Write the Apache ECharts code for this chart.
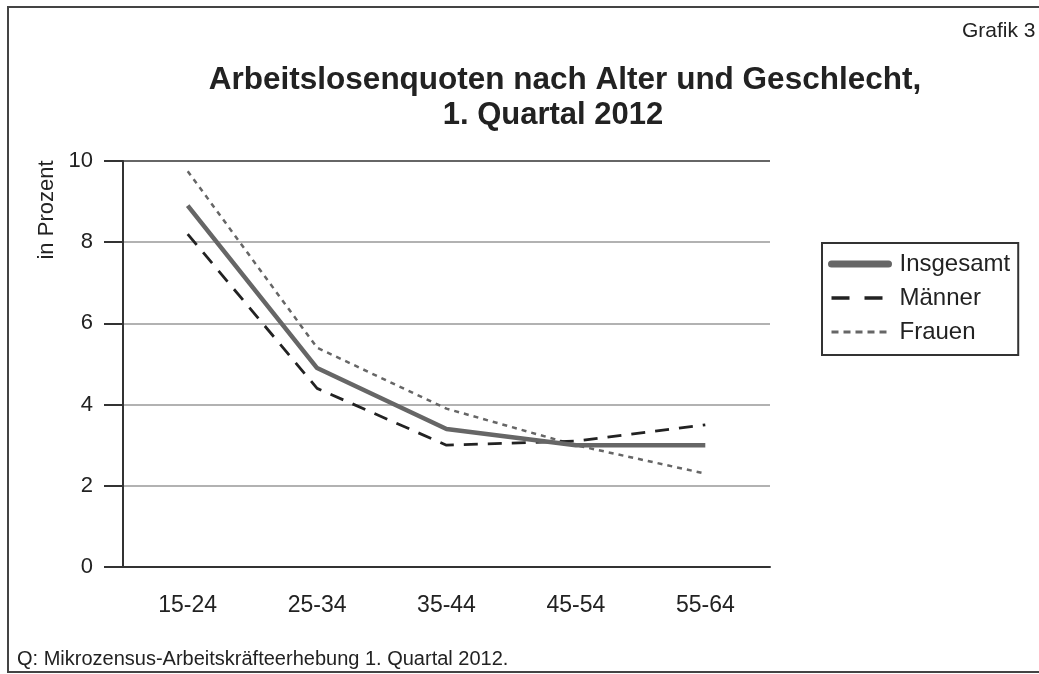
<!DOCTYPE html>
<html>
<head>
<meta charset="utf-8">
<script src="https://cdn.jsdelivr.net/npm/echarts@6/dist/echarts.min.js"></script>
<style>
  html, body { margin: 0; padding: 0; background: #fff; }
  #chart { width: 1039px; height: 674px; }
</style>
</head>
<body>
<div id="chart"></div>
<script>
// Altersgruppen und Quoten (in Prozent)
var ageGroups = ['15-24', '25-34', '35-44', '45-54', '55-64'];
var insgesamt = [8.9, 4.9, 3.4, 3.0, 3.0];
var maenner   = [8.2, 4.4, 3.0, 3.1, 3.5];
var frauen    = [9.75, 5.4, 3.9, 3.0, 2.3];
var yTicks    = [0, 2, 4, 6, 8, 10];

var font = 'Liberation Sans, Arial, sans-serif';
var myChart = echarts.init(document.getElementById('chart'));

myChart.setOption({
    backgroundColor: '#fff',
    textStyle: { fontFamily: font, color: '#222' },
    title: [
        {
            text: 'Arbeitslosenquoten nach Alter und Geschlecht,',
            left: 560, top: 59, textAlign: 'center',
            textStyle: { fontFamily: font, fontSize: 31.5, fontWeight: 'bold', color: '#222' }
        },
        {
            text: '1. Quartal 2012',
            left: 548, top: 95, textAlign: 'center',
            textStyle: { fontFamily: font, fontSize: 31, fontWeight: 'bold', color: '#222' }
        },
        {
            text: 'Grafik 3',
            left: 957, top: 16,
            textStyle: { fontFamily: font, fontSize: 21, fontWeight: 'normal', color: '#222' }
        },
        {
            text: 'Q: Mikrozensus-Arbeitskräfteerhebung 1. Quartal 2012.',
            left: 12, top: 644,
            textStyle: { fontFamily: font, fontSize: 20, fontWeight: 'normal', color: '#222' }
        }
    ],
    legend: {
        orient: 'vertical',
        left: 822, top: 243,
        padding: [9, 8, 11, 6],
        borderColor: '#333',
        borderWidth: 2,
        itemWidth: 57,
        itemHeight: 24,
        itemGap: 10,
        itemStyle: { color: 'rgba(0,0,0,0)', borderWidth: 0 },
        textStyle: { fontFamily: font, fontSize: 24, color: '#222', padding: [0, 0, 0, 6] },
        data: [
            { name: 'Insgesamt', lineStyle: { width: 7, color: '#666', cap: 'round' } },
            { name: 'Männer', lineStyle: { width: 3.5, color: '#222', type: [18, 15] } },
            { name: 'Frauen', lineStyle: { width: 3, color: '#666', type: [7, 5] } }
        ]
    },
    grid: { left: 123, right: 269, top: 161, bottom: 107 },
    xAxis: {
        type: 'category',
        data: ageGroups,
        boundaryGap: true,
        axisLine: { lineStyle: { color: '#333', width: 2 } },
        axisTick: { alignWithLabel: true, length: 18, lineStyle: { color: '#333', width: 2 } },
        axisLabel: { margin: 27, fontSize: 23, color: '#222', fontFamily: font }
    },
    yAxis: {
        type: 'value',
        min: yTicks[0], max: yTicks[yTicks.length - 1], interval: 2,
        axisLine: { show: true, lineStyle: { color: '#333', width: 2 } },
        axisTick: { show: true, length: 19, lineStyle: { color: '#333', width: 2 } },
        axisLabel: { margin: 30, fontSize: 22, color: '#222', fontFamily: font },
        splitLine: { lineStyle: { color: ['#999', '#999', '#999', '#999', '#999', '#333'], width: 1.5 } }
    },
    graphic: [
        {
            type: 'rect',
            shape: { x: 8, y: 7, width: 1100, height: 665 },
            style: { fill: 'none', stroke: '#444', lineWidth: 2 },
            silent: true
        },
        {
            type: 'text',
            x: 47, y: 210, rotation: Math.PI / 2,
            style: { text: 'in Prozent', font: '22px ' + font, fill: '#222', align: 'center', verticalAlign: 'middle' }
        }
    ],
    series: [
        {
            name: 'Insgesamt', type: 'line', data: insgesamt,
            symbol: 'none', z: 3,
            lineStyle: { color: '#666', width: 4.5 },
            itemStyle: { color: '#666' }
        },
        {
            name: 'Männer', type: 'line', data: maenner,
            symbol: 'none', z: 2,
            lineStyle: { color: '#222', width: 2.8, type: [14, 10] },
            itemStyle: { color: '#222' }
        },
        {
            name: 'Frauen', type: 'line', data: frauen,
            symbol: 'none', z: 1,
            lineStyle: { color: '#666', width: 2.5, type: [5, 5] },
            itemStyle: { color: '#666' }
        }
    ]
});
</script>
</body>
</html>
